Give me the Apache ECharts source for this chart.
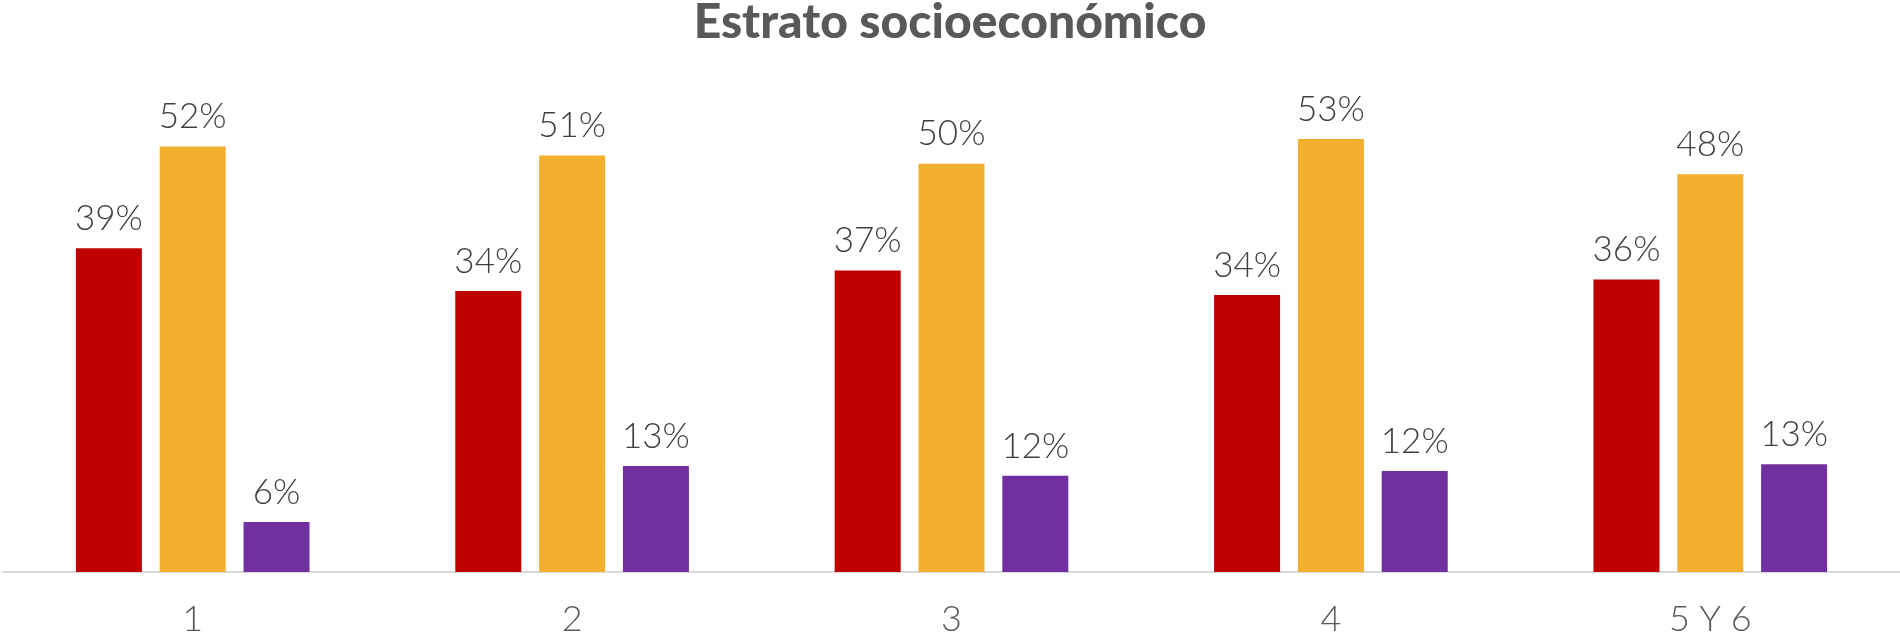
<!DOCTYPE html>
<html>
<head>
<meta charset="utf-8">
<script src="https://cdn.jsdelivr.net/npm/echarts@6/dist/echarts.min.js"></script>
<style>
html,body{margin:0;padding:0;background:#fff;}
#chart{width:1900px;height:641px;}
</style>
</head>
<body>
<div id="chart"></div>
<script>
const titleText = 'Estrato socioeconómico';
const categories = ['1', '2', '3', '4', '5 Y 6'];
const seriesA = [39.4, 34.2, 36.7, 33.7, 35.6];
const seriesB = [51.8, 50.7, 49.7, 52.7, 48.4];
const seriesC = [6.1, 12.9, 11.7, 12.3, 13.1];
const colors = ['#C00000', '#F3B02F', '#7030A0'];

const labelStyle = {
  show: true,
  position: 'top',
  distance: 12,
  fontFamily: 'Lato',
  fontWeight: 300,
  fontSize: 35,
  color: '#404040',
  formatter: p => Math.round(p.value) + '%'
};

function mk(data, color) {
  return {
    type: 'bar',
    data: data,
    barWidth: 66,
    barGap: '27%',
    itemStyle: { color: color },
    label: labelStyle
  };
}

const chart = echarts.init(document.getElementById('chart'));
chart.setOption({
  animation: false,
  title: {
    text: titleText,
    left: 'center',
    top: -6,
    textStyle: { fontFamily: 'Lato', fontWeight: 900, fontSize: 48, color: '#595959' }
  },
  grid: { left: 3, right: 0, top: 79, bottom: 69 },
  xAxis: {
    type: 'category',
    data: categories,
    axisLine: { lineStyle: { color: '#D9D9D9', width: 2 } },
    axisTick: { show: false },
    axisLabel: { fontFamily: 'Lato', fontWeight: 300, fontSize: 36, color: '#595959', margin: 29 }
  },
  yAxis: {
    type: 'value',
    min: 0,
    max: 60,
    show: false,
    splitLine: { show: false }
  },
  series: [mk(seriesA, colors[0]), mk(seriesB, colors[1]), mk(seriesC, colors[2])]
});
</script>
</body>
</html>
